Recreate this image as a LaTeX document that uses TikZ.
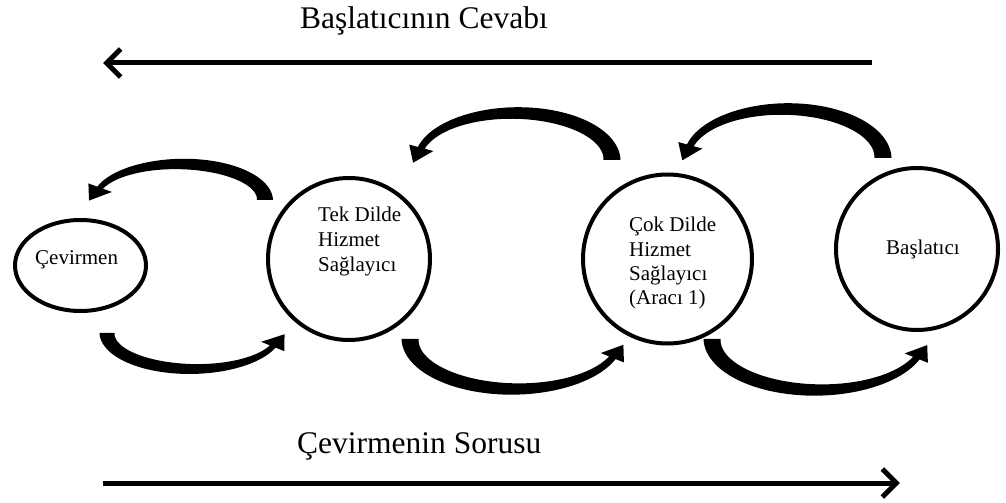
\documentclass[tikz,border=0pt]{standalone}
\usepackage{fontspec}
\setmainfont{Liberation Serif}
\usetikzlibrary{arrows.meta,shapes.geometric}

% Tapered curved block arrow along half an ellipse.
% #1,#2 centre; #3,#4 semi-axes; #5,#6 orientation signs (x,y);
% #7 sweep angle; #8 width at the tail; #9 width where the head starts.
\newcommand\headHalf{12.5}
\newcommand\headLen{17}
\newcommand{\bentarrow}[9]{%
  \pgfmathsetmacro\bcx{#1}\pgfmathsetmacro\bcy{#2}%
  \pgfmathsetmacro\ba{#3}\pgfmathsetmacro\bb{#4}%
  \pgfmathsetmacro\bsx{#5}\pgfmathsetmacro\bsy{#6}%
  \pgfmathsetmacro\bT{#7}%
  \pgfmathsetmacro\bwa{#8}\pgfmathsetmacro\bwb{#9}%
  \pgfmathsetmacro\px{\bcx+(\bsx)*\ba*cos(\bT)}%
  \pgfmathsetmacro\py{\bcy+(\bsy)*\bb*sin(\bT)}%
  \pgfmathsetmacro\tx{-1*(\bsx)*\ba*sin(\bT)}%
  \pgfmathsetmacro\ty{(\bsy)*\bb*cos(\bT)}%
  \pgfmathsetmacro\tn{sqrt((\tx)*(\tx)+(\ty)*(\ty))}%
  \pgfmathsetmacro\ux{(\tx)/\tn}\pgfmathsetmacro\uy{(\ty)/\tn}%
  \pgfmathsetmacro\nx{(\bsx)*cos(\bT)}\pgfmathsetmacro\ny{(\bsy)*sin(\bT)}%
  \fill[black]
    plot[domain=0:\bT, samples=50, variable=\t]
      ({\bcx+(\bsx)*(\ba+(\bwa+(\bwb-\bwa)*\t/\bT)/2)*cos(\t)},
       {\bcy+(\bsy)*(\bb+(\bwa+(\bwb-\bwa)*\t/\bT)/2)*sin(\t)})
    -- ({\px+(\nx)*\headHalf},{\py+(\ny)*\headHalf})
    -- ({\px+(\ux)*\headLen},{\py+(\uy)*\headLen})
    -- ({\px-(\nx)*\headHalf},{\py-(\ny)*\headHalf})
    -- plot[domain=\bT:0, samples=50, variable=\t]
      ({\bcx+(\bsx)*(\ba-(\bwa+(\bwb-\bwa)*\t/\bT)/2)*cos(\t)},
       {\bcy+(\bsy)*(\bb-(\bwa+(\bwb-\bwa)*\t/\bT)/2)*sin(\t)})
    -- cycle;
}

\begin{document}
\begin{tikzpicture}[x=1bp,y=-1bp,
  party/.style={draw, line width=4bp, circle, inner sep=0pt},
  lbl/.style={inner sep=0pt, anchor=base west, font=\fontsize{21bp}{25bp}\selectfont},
  title/.style={inner sep=0pt, anchor=base west, font=\fontsize{31.5bp}{36bp}\selectfont},
  flowline/.style={line width=5bp, -{Straight Barb[length=14bp,width=28bp]}}]
\useasboundingbox (0,0) rectangle (1006,503);

% participants
\node[draw, line width=4bp, ellipse, inner sep=0pt, minimum width=131bp, minimum height=91bp] (cev) at (80.5,265.5) {};
\node[party, minimum size=162bp] (tek) at (349,259) {};
\node[party, minimum size=169bp] (cok) at (667.5,259) {};
\node[party, minimum size=162bp] (bas) at (917,249) {};

\node[lbl] (cevt) at (35,265) {Çevirmen};
\node[lbl] (tek1) at (318,222) {Tek Dilde};
\node[lbl] (tek2) at (318,247) {Hizmet};
\node[lbl] (tek3) at (318,272) {Sağlayıcı};
\node[lbl] (cok1) at (629,232) {Çok Dilde};
\node[lbl] (cok2) at (629,257) {Hizmet};
\node[lbl] (cok3) at (629,281) {Sağlayıcı};
\node[lbl] (cok4) at (629,305) {(Aracı 1)};
\node[lbl] (bast) at (886,255) {Başlatıcı};

% answer path (upper arcs, right to left)
\bentarrow{180}{200}{85}{36}{1}{-1}{160}{16}{6}
\bentarrow{515}{160}{97}{47}{1}{-1}{165}{17}{7}
\bentarrow{785}{158}{98}{49}{1}{-1}{165}{17}{7}

% question path (lower arcs, left to right)
\bentarrow{193}{333}{86}{36}{-1}{1}{158}{15}{6}
\bentarrow{515}{339}{105}{50}{-1}{1}{158}{17}{7}
\bentarrow{818}{339}{106}{51}{-1}{1}{158}{17}{7}

% overall direction arrows with captions
\node[title] (ans) at (300,29) {Başlatıcının Cevabı};
\coordinate (ansR) at (872,63);
\coordinate (ansL) at (103,63);
\draw[flowline] (ansR) -- (ansL);

\node[title] (qst) at (297,453) {Çevirmenin Sorusu};
\coordinate (qstL) at (103,483);
\coordinate (qstR) at (900,483);
\draw[flowline] (qstL) -- (qstR);
\end{tikzpicture}
\end{document}
